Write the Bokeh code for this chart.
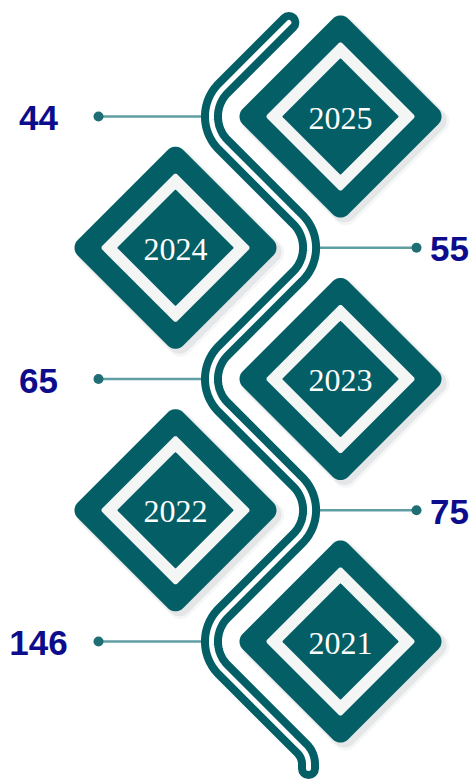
import numpy as np
from bokeh.plotting import figure
from bokeh.models import Range1d
from bokeh.core.properties import value
from bokeh.embed import file_html
from bokeh.resources import INLINE

# ---- data ----
years = ["2025", "2024", "2023", "2022", "2021"]
values = [44, 55, 65, 75, 146]

# ---- layout constants (reference pixel space) ----
TEAL = "#035e66"
LINK = "#5f9ea3"
DOT = "#1f6e75"
NAVY = "#0c0c8c"
Y0, STEP = 116.0, 131.25
XL = 194.4                 # sharp left vertex of the snake centre line
XR = XL + STEP             # sharp right vertex
CX_RIGHT, CX_LEFT = 340.0, 175.0
APEX_L, APEX_R = 211.0, 309.0
DOT_L, DOT_R = 98.0, 416.0
LAB_L, LAB_R = 38.0, 449.0

p = figure(width=473, height=781, x_range=Range1d(0, 473), y_range=Range1d(781, 0),
           output_backend="svg", toolbar_location=None, min_border=0)
p.xaxis.visible = False
p.yaxis.visible = False
p.xgrid.visible = False
p.ygrid.visible = False
p.outline_line_color = None
p.background_fill_color = "white"
p.border_fill_color = "white"


def fillet_path(pts, radii, n=30):
    pts = [np.array(q, dtype=float) for q in pts]
    out = [pts[0]]
    for i in range(1, len(pts) - 1):
        P, a, b = pts[i], pts[i - 1], pts[i + 1]
        d1 = (P - a) / np.linalg.norm(P - a)
        d2 = (b - P) / np.linalg.norm(b - P)
        turn = np.arccos(np.clip(np.dot(d1, d2), -1, 1))
        R = radii[i - 1]
        t = R * np.tan(turn / 2)
        A = P - d1 * t
        s = np.sign(d1[0] * d2[1] - d1[1] * d2[0])
        nrm = s * np.array([-d1[1], d1[0]])
        C = A + nrm * R
        a0 = np.arctan2(A[1] - C[1], A[0] - C[0])
        angs = a0 + s * turn * np.linspace(0, 1, n)
        for ang in angs:
            out.append(C + R * np.array([np.cos(ang), np.sin(ang)]))
    out.append(pts[-1])
    arr = np.array(out)
    return arr[:, 0], arr[:, 1]


def rounded_diamond(cx, cy, tip, r, n=10):
    s = r + (tip - r) / np.sqrt(2)
    xs, ys = [], []
    for k, (sx, sy) in enumerate([(1, 1), (-1, 1), (-1, -1), (1, -1)]):
        ccx, ccy = sx * (s - r), sy * (s - r)
        for ang in np.linspace(k * np.pi / 2, (k + 1) * np.pi / 2, n):
            xs.append(ccx + r * np.cos(ang))
            ys.append(ccy + r * np.sin(ang))
    xs, ys = np.array(xs), np.array(ys)
    c, sn = np.cos(np.pi / 4), np.sin(np.pi / 4)
    rx = xs * c - ys * sn
    ry = xs * sn + ys * c
    return list(cx + rx), list(cy + ry)


n = len(years)
cys = [Y0 + i * STEP for i in range(n)]
cxs = [CX_RIGHT if i % 2 == 0 else CX_LEFT for i in range(n)]
apex = [APEX_L if i % 2 == 0 else APEX_R for i in range(n)]
dots = [DOT_L if i % 2 == 0 else DOT_R for i in range(n)]
labx = [LAB_L if i % 2 == 0 else LAB_R for i in range(n)]

# connectors
p.segment(x0=dots, y0=cys, x1=apex, y1=cys, line_color=LINK, line_width=2.5)
p.scatter(x=dots, y=cys, size=10, fill_color=DOT, line_color=None)

# snake
verts = [(XL + (Y0 - 22), 22)]
for i in range(n):
    verts.append((XL if i % 2 == 0 else XR, cys[i]))
bx = 308.0
verts.append((bx, cys[-1] + (bx - XL)))
verts.append((bx, 768))
radii = [40] * n + [22]
sx, sy = fillet_path(verts, radii)
p.line(sx, sy, line_color=TEAL, line_width=21, line_cap="round", line_join="round")
p.line(sx, sy, line_color="white", line_width=5, line_cap="round", line_join="round")

# diamonds
for cx, cy in zip(cxs, cys):
    for off, alpha, grow in [(5, 0.08, 3), (4, 0.14, 1)]:
        x, y = rounded_diamond(cx + off, cy + off, 101 + grow, 12)
        p.patch(x, y, fill_color="#7d8a8b", fill_alpha=alpha, line_color=None)
    x, y = rounded_diamond(cx, cy, 101, 11)
    p.patch(x, y, fill_color=TEAL, line_color=None)
    x, y = rounded_diamond(cx, cy, 74, 3)
    p.patch(x, y, fill_color="#f4f6f6", line_color=None)
    x, y = rounded_diamond(cx, cy, 58, 1)
    p.patch(x, y, fill_color=TEAL, line_color=None)

p.text(x=cxs, y=[c + 1.5 for c in cys], text=years, text_font=value("Liberation Serif"),
       text_font_size="32px", text_color="white", text_align="center",
       text_baseline="middle")

p.text(x=labx, y=[c + 1.5 for c in cys], text=[str(v) for v in values],
       text_font=value("Liberation Sans"), text_font_style="bold",
       text_font_size="35px", text_color=NAVY, text_align="center",
       text_baseline="middle")

open("out.html", "w").write(file_html(p, INLINE))
